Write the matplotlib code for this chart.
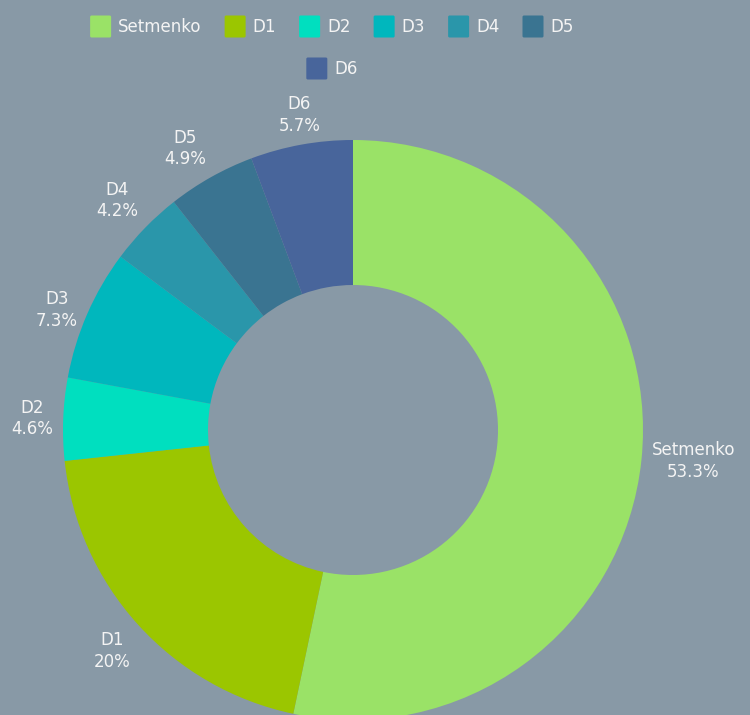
import matplotlib
matplotlib.use("Agg")
import matplotlib.pyplot as plt
import numpy as np
from matplotlib.patches import FancyBboxPatch

names = ["Setmenko", "D1", "D2", "D3", "D4", "D5", "D6"]
shares = [53.3, 20.0, 4.6, 7.3, 4.2, 4.9, 5.7]
colors = ["#9ae267", "#9bc600", "#00dfbf", "#00b7bd", "#2a96aa", "#3a7491", "#48659b"]

BG = "#8899a6"
TXT = "#f4f4f4"
FONT = "DejaVu Sans"
FS = 12

plt.rcParams["font.family"] = [FONT]

W, H = 750, 715
fig = plt.figure(figsize=(W / 100, H / 100), dpi=100, facecolor=BG)

# pie axes: centre (353, 430) px, radius 290 px
cx, cy, R = 353, 430, 290
ax = fig.add_axes([(cx - R) / W, (H - cy - R) / H, 2 * R / W, 2 * R / H])
ax.set_facecolor(BG)
wedges, _ = ax.pie(shares, colors=colors, startangle=90, counterclock=False,
                   radius=1.0, wedgeprops=dict(width=0.5, linewidth=0))
ax.set_xlim(-1, 1)
ax.set_ylim(-1, 1)
ax.axis("off")


def fmt(v):
    s = "{:.1f}".format(v)
    return s[:-2] if s.endswith(".0") else s


for w, name, v in zip(wedges, names, shares):
    ang = np.deg2rad((w.theta1 + w.theta2) / 2)
    c, s = np.cos(ang), np.sin(ang)
    r = 1.035
    ha = "left" if c > 0.35 else ("right" if c < -0.35 else "center")
    va = "bottom" if s > 0.45 else ("top" if s < -0.45 else "center")
    ax.text(r * c, r * s, "{}\n{}%".format(name, fmt(v)), ha=ha, va=va,
            multialignment="center", color=TXT, fontsize=FS, linespacing=1.25)

# legend, drawn by hand: two centred rows
fig.canvas.draw()
rend = fig.canvas.get_renderer()
sq, gap_txt, gap_item = 21, 7, 23
rows = [names[:6], names[6:]]
row_y = [27, 69]
leg_cx = 332


def text_w(t):
    tt = fig.text(0, 0, t, fontsize=FS)
    wpx = tt.get_window_extent(rend).width
    tt.remove()
    return wpx


for row, ypx in zip(rows, row_y):
    widths = [sq + gap_txt + text_w(n) for n in row]
    total = sum(widths) + gap_item * (len(row) - 1)
    x = leg_cx - total / 2
    for n, wd in zip(row, widths):
        col = colors[names.index(n)]
        fig.patches.append(FancyBboxPatch(
            (x / W, (H - ypx - sq / 2) / H), sq / W, 22 / H,
            boxstyle="round,pad=0,rounding_size=0.002",
            transform=fig.transFigure, facecolor=col, edgecolor="none"))
        fig.text((x + sq + gap_txt) / W, (H - ypx) / H, n, ha="left",
                 va="center", color=TXT, fontsize=FS)
        x += wd + gap_item

fig.savefig("out.png", dpi=100, facecolor=BG)
